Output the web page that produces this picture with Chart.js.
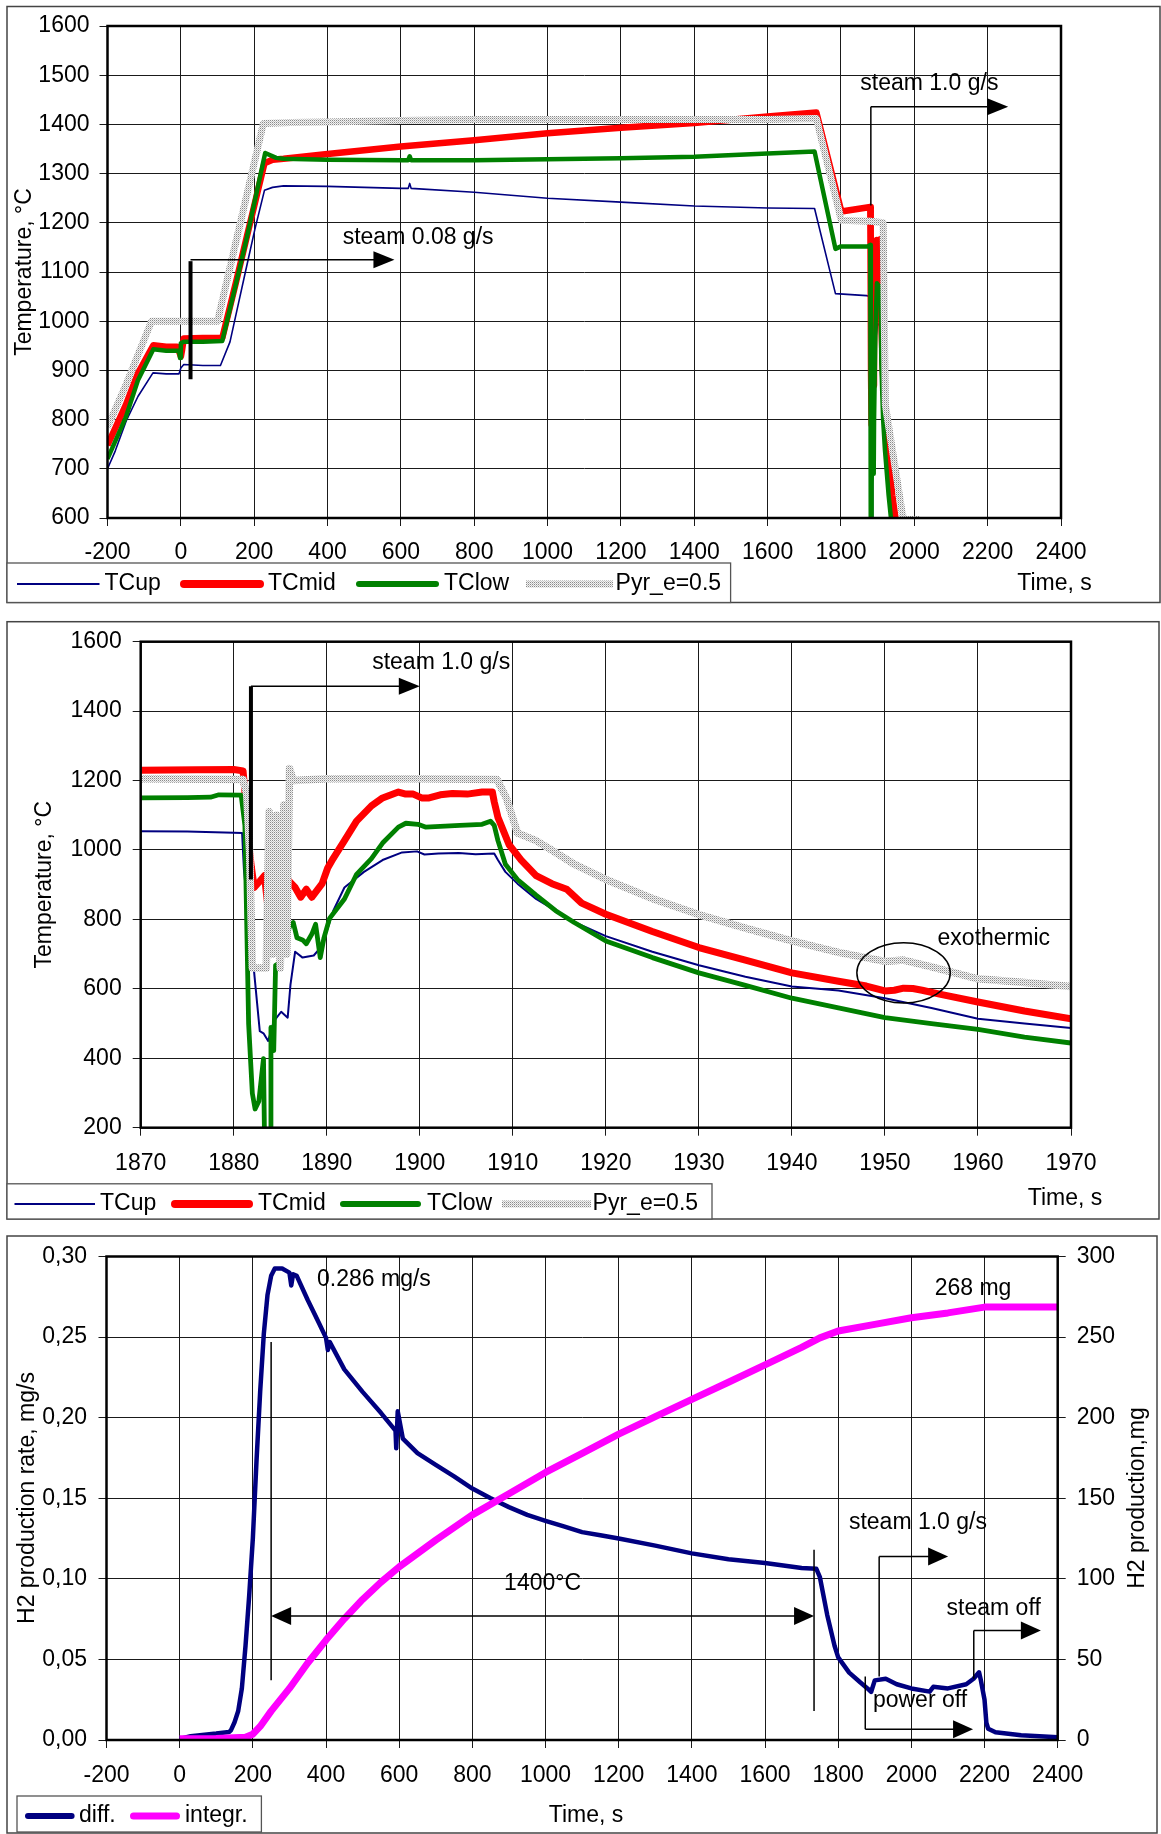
<!DOCTYPE html>
<html><head><meta charset="utf-8">
<script src="https://cdn.jsdelivr.net/npm/chart.js@4.4.1/dist/chart.umd.min.js"></script>
<style>
html,body{margin:0;padding:0;background:#fff;}
body{width:1161px;height:1834px;position:relative;overflow:hidden;}
canvas{position:absolute;left:0;}
</style></head><body>
<canvas id="c1" width="1161" height="610" style="top:0;width:1161px;height:610px"></canvas>
<canvas id="c2" width="1161" height="618" style="top:610px;width:1161px;height:618px"></canvas>
<canvas id="c3" width="1161" height="606" style="top:1228px;width:1161px;height:606px"></canvas>
<script>
// ---------------- DATA ----------------
const SERIES_NAMES = ['TCup', 'TCmid', 'TClow', 'Pyr_e=0.5'];
const P3_NAMES = ['diff.', 'integr.'];

// Panel 1 (full test), time in s, temperature in degC
const P1_XTICKS = [-200,0,200,400,600,800,1000,1200,1400,1600,1800,2000,2200,2400];
const P1_YTICKS = [600,700,800,900,1000,1100,1200,1300,1400,1500,1600];

const P1_TIME_UP = [-200,-179,-148,-117,-76,-40,-5,0,8,60,108,134,155,176,202,228,250,280,400,600,620,624,628,800,1000,1200,1400,1600,1728,1785,1870,1881,1881.5,1883,1884,1885,1886,1887,1890,1896,1900,1908,1912,1920,1930,1940,1950,1960,1970];
const P1_TCUP      = [700,736,799,847,895,893,893,905,912,910,910,958,1029,1100,1187,1266,1272,1275,1274,1270,1270,1280,1270,1262,1250,1242,1234,1230,1229,1056,1052,1050,942,470,450,530,610,700,800,970,995,990,860,752,668,607,573,511,487];

const P1_TIME_MID = [-200,-150,-117,-75,-40,-10,-3,0,3,8,60,113,150,180,200,228,250,280,400,600,800,1000,1200,1400,1600,1733,1801,1880,1881,1881.3,1882,1883,1884,1885,1886,1888,1890,1894,1898,1900,1904,1908,1910,1915,1920,1930,1940,1950,1960,1970];
const P1_TCMID      = [748,830,894,951,948,948,935,928,940,965,966,966,1078,1172,1234,1321,1328,1330,1340,1355,1368,1382,1393,1403,1416,1424,1223,1232,1225,1066,900,903,790,930,909,870,948,1127,1165,1150,1161,1167,1000,890,815,719,646,592,562,514];

const P1_TIME_LOW = [-200,-150,-117,-75,-40,-5,-2,0,8,60,113,150,180,230,260,280,400,600,620,624,628,800,1000,1200,1400,1600,1728,1785,1800,1874,1880,1881.2,1881.6,1882,1882.3,1883.2,1883.3,1883.9,1884,1884.5,1886,1888,1889.3,1890.3,1894,1898,1904,1908,1910,1915,1920,1930,1940,1950];
const P1_TCLOW      = [720,805,880,943,940,940,925,955,958,958,960,1075,1170,1342,1332,1330,1328,1327,1327,1335,1327,1327,1329,1331,1334,1341,1345,1147,1152,1152,1155,1071,500,299,254,399,187,187,489,668,780,760,690,803,982,1077,1071,1071,915,800,738,646,573,517];

const P1_TIME_PYR = [-200,-150,-80,100,225,300,400,600,800,1000,1200,1400,1600,1733,1801,1880,1915,1921,1968,1976,2015];
const P1_PYR      = [785,870,1000,1000,1402,1404,1405,1408,1410,1410,1410,1410,1410,1412,1205,1203,1200,830,605,597,597];

// Panel 2 (zoom 1870-1970 s)
const P2_XTICKS = [1870,1880,1890,1900,1910,1920,1930,1940,1950,1960,1970];
const P2_YTICKS = [200,400,600,800,1000,1200,1400,1600];

const P2_TIME_UP = [1870,1875,1880,1880.9,1881.1,1882.2,1882.8,1883.2,1883.7,1884.3,1885.1,1885.8,1886.1,1886.6,1887.4,1888.6,1889.5,1890.7,1891.9,1894,1896,1898.1,1899.7,1900.5,1902,1904.2,1906,1908,1908.4,1909.2,1910.5,1912.5,1914.6,1916.7,1920,1925,1930,1935,1940,1945,1950,1955,1960,1965,1970];
const P2_TCUP      = [1054,1053,1050,1049,942,646,478,472,450,506,534,517,612,707,690,696,724,825,892,937,971,993,996,987,990,991,988,990,971,937,903,859,825,791,752,707,668,635,607,595,573,545,514,500,487];

const P2_TIME_MID = [1870,1876,1880,1881,1881.2,1881.4,1881.9,1882.2,1882.8,1883.3,1883.9,1884.2,1884.9,1885.1,1885.5,1886,1886.6,1887.2,1887.8,1888.4,1889.5,1890.1,1890.7,1891.9,1893.2,1894.8,1896,1897.7,1898.5,1899.3,1900.2,1901,1902.2,1903.5,1905.1,1906.7,1907.8,1908,1908.4,1909.6,1910.9,1912.5,1914.2,1915.8,1917.4,1920,1925,1930,1935,1940,1945,1948,1950,1951,1952,1953,1954,1956,1960,1965,1970];
const P2_TCMID      = [1230,1231,1232,1228,1170,1066,950,892,910,926,780,948,937,892,930,909,892,864,887,864,903,948,976,1027,1083,1127,1150,1167,1161,1161,1150,1150,1159,1163,1161,1167,1167,1139,1094,1015,971,926,903,887,847,815,765,719,683,646,622,608,594,596,602,601,596,584,562,536,514];

const P2_TIME_LOW = [1870,1875,1877.5,1878.4,1880.8,1881.2,1881.6,1882,1882.3,1882.7,1883.2,1883.3,1883.9,1884,1884.3,1884.5,1884.9,1886,1886.4,1886.8,1887.4,1887.8,1888.4,1888.8,1889.3,1889.7,1890.3,1891.9,1893.2,1894.8,1896,1897.7,1898.5,1899.8,1900.6,1902.2,1904.3,1906.7,1907.6,1908,1908.4,1909.2,1910.5,1912.5,1914.6,1916.6,1920,1925,1930,1935,1940,1945,1950,1955,1960,1965,1970];
const P2_TCLOW      = [1150,1151,1152,1159,1158,1071,500,299,254,276,399,187,187,489,422,668,674,780,791,747,741,730,758,786,690,747,803,859,930,975,1020,1066,1077,1074,1066,1068,1071,1074,1083,1071,1027,959,915,870,825,791,738,690,646,610,573,545,517,500,483,461,444];

const P2_TIME_PYR = [1870,1881,1881.4,1881.7,1882,1883.5,1883.8,1884.2,1884.6,1885,1885.4,1885.7,1886,1886.4,1890,1900,1908.3,1909.3,1910.5,1912.5,1914.6,1916.6,1920,1925,1930,1935,1940,1945,1950,1952,1955,1960,1965,1970];
const P2_PYR      = [1205,1203,1160,1000,660,660,1110,700,1100,660,1130,700,1235,1200,1205,1205,1203,1150,1049,1027,993,959,915,860,814,775,738,705,679,683,663,629,618,607];

// Panel 3 (hydrogen), rate in mg/s, integral in mg
const P3_XTICKS  = [-200,0,200,400,600,800,1000,1200,1400,1600,1800,2000,2200,2400];
const P3_YTICKS  = [0,0.05,0.10,0.15,0.20,0.25,0.30];
const P3_Y2TICKS = [0,50,100,150,200,250,300];

const P3_TIME_DIFF = [0,30,100,135,140,150,160,170,180,190,200,210,220,230,240,250,260,280,300,305,310,320,350,380,400,405,410,450,500,550,590,592,596,610,650,700,750,800,850,900,950,1000,1050,1100,1150,1200,1300,1400,1500,1600,1700,1740,1750,1770,1790,1800,1830,1860,1880,1890,1900,1930,1960,2000,2050,2060,2100,2150,2170,2185,2190,2200,2205,2210,2230,2300,2400];
const P3_DIFF      = [0.0007,0.0024,0.004,0.005,0.006,0.011,0.018,0.032,0.0585,0.0895,0.125,0.173,0.216,0.252,0.276,0.288,0.2925,0.2925,0.290,0.282,0.289,0.288,0.273,0.259,0.2495,0.242,0.247,0.230,0.216,0.203,0.192,0.181,0.204,0.187,0.178,0.1707,0.1636,0.156,0.150,0.1445,0.1397,0.136,0.1325,0.129,0.127,0.125,0.1206,0.1158,0.1122,0.1098,0.1067,0.1063,0.101,0.0776,0.0585,0.0513,0.0418,0.0358,0.032,0.0298,0.037,0.038,0.0346,0.032,0.030,0.033,0.032,0.0346,0.038,0.042,0.037,0.025,0.0107,0.007,0.0048,0.003,0.0017];

const P3_TIME_INT = [0,100,180,200,220,250,300,350,400,450,500,550,600,700,800,900,1000,1100,1200,1300,1400,1500,1600,1700,1750,1800,1900,2000,2100,2200,2300,2400];
const P3_INTEGR   = [0.7,1,1.7,3.6,8.4,17.9,32,47.8,62,75.2,87.2,97.9,107.4,124,139.7,152.8,166,177.9,189.8,200.6,211.3,222,232.8,243.6,249.5,253.8,257.9,262,265,268.6,268.6,268.6];

// ---------------- STYLE / HELPERS ----------------
const FAMILY = '"Liberation Sans", Arial, Helvetica, sans-serif';
const FS = 23;
const FONT = FS + 'px ' + FAMILY;
const NAVY = '#000080', RED = '#ff0000', GREEN = '#008000', MAGENTA = '#ff00ff';

function pts(xs, ys){ return xs.map((x, i) => ({x: x, y: ys[i]})); }

function makePattern(){
  const c = document.createElement('canvas'); c.width = 2; c.height = 2;
  const g = c.getContext('2d');
  g.fillStyle = '#f2f2f2'; g.fillRect(0, 0, 2, 2);
  g.fillStyle = '#8a8a8a'; g.fillRect(0, 0, 1, 1);
  g.fillStyle = '#c4c4c4'; g.fillRect(1, 1, 1, 1);
  return g.createPattern(c, 'repeat');
}
const PYR_PAT = makePattern();

function scale(o){
  return {
    type: 'linear', position: o.pos, min: o.min, max: o.max,
    afterBuildTicks: s => { s.ticks = o.ticks.map(v => ({value: v})); },
    afterFit: s => { if (o.pos === 'left' || o.pos === 'right') s.width = o.size; else s.height = o.size; },
    grid: {display: true, drawOnChartArea: o.grid !== false, drawTicks: true, tickLength: 8, color: '#1a1a1a', lineWidth: 1},
    border: {display: false},
    ticks: {color: '#000', font: {family: FAMILY, size: FS}, padding: o.pad, autoSkip: false, maxRotation: 0, minRotation: 0,
            callback: o.fmt || (v => String(v))}
  };
}

function ds(data, color, width, order, yAxisID){
  return {data: data, borderColor: color, backgroundColor: color, borderWidth: width, order: order,
          fill: false, pointRadius: 0, tension: 0, borderJoinStyle: 'round', yAxisID: yAxisID || 'y'};
}

function seg(ctx, x1, y1, x2, y2, w){
  ctx.beginPath(); ctx.lineWidth = w; ctx.strokeStyle = '#000';
  ctx.moveTo(x1, y1); ctx.lineTo(x2, y2); ctx.stroke();
}
function head(ctx, tipX, y, dir, len, half){
  ctx.beginPath(); ctx.fillStyle = '#000';
  ctx.moveTo(tipX, y); ctx.lineTo(tipX - dir * len, y - half); ctx.lineTo(tipX - dir * len, y + half);
  ctx.closePath(); ctx.fill();
}
function txt(ctx, s, x, y, align){
  ctx.font = FONT; ctx.fillStyle = '#000'; ctx.textBaseline = 'middle'; ctx.textAlign = align || 'center';
  ctx.fillText(s, x, y);
}
function vtxt(ctx, s, x, y){
  ctx.save(); ctx.translate(x, y); ctx.rotate(-Math.PI / 2); txt(ctx, s, 0, 0, 'center'); ctx.restore();
}
function frame(ctx, x1, y1, x2, y2, w, col){
  ctx.lineWidth = w; ctx.strokeStyle = col; ctx.strokeRect(x1, y1, x2 - x1, y2 - y1);
}
function legend(ctx, box, ty, items){
  ctx.fillStyle = '#fff'; ctx.fillRect(box[0], box[1], box[2] - box[0], box[3] - box[1]);
  frame(ctx, box[0], box[1], box[2], box[3], 1.3, '#555');
  items.forEach(it => {
    ctx.beginPath(); ctx.lineWidth = it.w; ctx.strokeStyle = it.style; ctx.lineCap = it.cap;
    ctx.moveTo(it.x1, ty); ctx.lineTo(it.x2, ty); ctx.stroke();
    ctx.lineCap = 'butt';
    txt(ctx, it.text, it.tx, ty, 'left');
  });
}
function plotBox(ch){
  const a = ch.chartArea, ctx = ch.ctx;
  ctx.lineWidth = 2.5; ctx.strokeStyle = '#000'; ctx.strokeRect(a.left, a.top, a.right - a.left, a.bottom - a.top);
}

const BASE_OPTIONS = {
  responsive: false, maintainAspectRatio: false, animation: false, devicePixelRatio: 1, events: [],
  plugins: {legend: {display: false}, tooltip: {enabled: false}, title: {display: false}},
  elements: {point: {radius: 0}, line: {tension: 0}}
};
function build(id, datasets, scales, padding, drawFn){
  return new Chart(document.getElementById(id), {
    type: 'line',
    data: {datasets: datasets},
    options: Object.assign({}, BASE_OPTIONS, {layout: {padding: padding}, scales: scales}),
    plugins: [{id: 'deco' + id, afterDraw: ch => { const c = ch.ctx; c.save(); drawFn(ch, c); c.restore(); }}]
  });
}

// ---------------- PANEL 1 ----------------
build('c1', [
    ds(pts(P1_TIME_UP, P1_TCUP), NAVY, 1.6, 3),
    ds(pts(P1_TIME_MID, P1_TCMID), RED, 6.5, 2),
    ds(pts(P1_TIME_LOW, P1_TCLOW), GREEN, 4.5, 1),
    ds(pts(P1_TIME_PYR, P1_PYR), PYR_PAT, 7, 0)
  ], {
    x: scale({pos: 'bottom', min: -200, max: 2400, ticks: P1_XTICKS, size: 92, pad: 13}),
    y: scale({pos: 'left', min: 600, max: 1600, ticks: P1_YTICKS, size: 107.5, pad: 10})
  }, {top: 26, right: 100, left: 0, bottom: 0},
  (ch, ctx) => {
    const X = v => ch.scales.x.getPixelForValue(v), Y = v => ch.scales.y.getPixelForValue(v);
    plotBox(ch);
    frame(ctx, 7, 6.5, 1160, 602.5, 1.5, '#444');
    vtxt(ctx, 'Temperature, °C', 25, 272);
    txt(ctx, 'Time, s', 1054.5, 584);
    legend(ctx, [7, 563, 730.6, 602.5], 584, [
      {x1: 17, x2: 99.5, w: 2, style: NAVY, cap: 'butt', tx: 104.5, text: SERIES_NAMES[0]},
      {x1: 184, x2: 260, w: 8, style: RED, cap: 'round', tx: 268, text: SERIES_NAMES[1]},
      {x1: 359, x2: 436, w: 6, style: GREEN, cap: 'round', tx: 444, text: SERIES_NAMES[2]},
      {x1: 526, x2: 613, w: 7, style: PYR_PAT, cap: 'butt', tx: 615.6, text: SERIES_NAMES[3]}
    ]);
    // steam 0.08 g/s arrow
    seg(ctx, X(26.4), Y(1122), X(26.4), Y(882), 4);
    seg(ctx, X(26.4), Y(1125), X(582.5) - 15, Y(1125), 1.5);
    head(ctx, X(582.5), Y(1125), 1, 21, 8.5);
    txt(ctx, 'steam 0.08 g/s', X(647), Y(1169));
    // steam 1.0 g/s arrow
    seg(ctx, X(1881.5), Y(1235), X(1881.5), Y(1436), 1.5);
    seg(ctx, X(1881.5), Y(1436), X(2256) - 15, Y(1436), 1.5);
    head(ctx, X(2256), Y(1436), 1, 21, 8.5);
    txt(ctx, 'steam 1.0 g/s', X(2041), Y(1482));
  });

// ---------------- PANEL 2 ----------------
build('c2', [
    ds(pts(P2_TIME_UP, P2_TCUP), NAVY, 2, 3),
    ds(pts(P2_TIME_MID, P2_TCMID), RED, 7, 2),
    ds(pts(P2_TIME_LOW, P2_TCLOW), GREEN, 4.8, 1),
    ds(pts(P2_TIME_PYR, P2_PYR), PYR_PAT, 7.5, 0)
  ], {
    x: scale({pos: 'bottom', min: 1870, max: 1970, ticks: P2_XTICKS, size: 100.3, pad: 14}),
    y: scale({pos: 'left', min: 200, max: 1600, ticks: P2_YTICKS, size: 140.7, pad: 11})
  }, {top: 31.7, right: 90, left: 0, bottom: 0},
  (ch, ctx) => {
    const X = v => ch.scales.x.getPixelForValue(v), Y = v => ch.scales.y.getPixelForValue(v);
    plotBox(ch);
    frame(ctx, 7, 11.7, 1159, 609, 1.5, '#444');
    vtxt(ctx, 'Temperature, °C', 45, 274.7);
    txt(ctx, 'Time, s', 1065, 589);
    legend(ctx, [7, 573.8, 712, 609], 594, [
      {x1: 14.5, x2: 95, w: 2, style: NAVY, cap: 'butt', tx: 100, text: SERIES_NAMES[0]},
      {x1: 175, x2: 249, w: 8, style: RED, cap: 'round', tx: 258, text: SERIES_NAMES[1]},
      {x1: 343, x2: 418, w: 6, style: GREEN, cap: 'round', tx: 427, text: SERIES_NAMES[2]},
      {x1: 502, x2: 591, w: 7, style: PYR_PAT, cap: 'butt', tx: 592.6, text: SERIES_NAMES[3]}
    ]);
    // steam arrow
    seg(ctx, X(1881.85), Y(1472), X(1881.85), Y(915), 4);
    seg(ctx, X(1881.85), Y(1472), X(1900) - 15, Y(1472), 1.5);
    head(ctx, X(1900), Y(1472), 1, 21, 8.5);
    txt(ctx, 'steam 1.0 g/s', X(1902.3), Y(1540));
    // exothermic ellipse
    ctx.beginPath(); ctx.lineWidth = 1.5; ctx.strokeStyle = '#000';
    ctx.ellipse(X(1952), Y(646), X(1957.02) - X(1952), Y(559) - Y(646), 0, 0, Math.PI * 2);
    ctx.stroke();
    txt(ctx, 'exothermic', X(1961.7), Y(743.6));
  });

// ---------------- PANEL 3 ----------------
build('c3', [
    ds(pts(P3_TIME_DIFF, P3_DIFF), NAVY, 4.5, 1, 'y'),
    ds(pts(P3_TIME_INT, P3_INTEGR), MAGENTA, 7, 0, 'y2')
  ], {
    x: scale({pos: 'bottom', min: -200, max: 2400, ticks: P3_XTICKS, size: 94, pad: 14}),
    y: scale({pos: 'left', min: 0, max: 0.30, ticks: P3_YTICKS, size: 106.5, pad: 11.5,
              fmt: v => Number(v).toFixed(2).replace('.', ',')}),
    y2: scale({pos: 'right', min: 0, max: 300, ticks: P3_Y2TICKS, size: 103.3, pad: 11, grid: false})
  }, {top: 28.5, right: 0, left: 0, bottom: 0},
  (ch, ctx) => {
    const X = v => ch.scales.x.getPixelForValue(v), Y = v => ch.scales.y.getPixelForValue(v);
    plotBox(ch);
    frame(ctx, 7, 8, 1157, 605, 1.5, '#444');
    vtxt(ctx, 'H2 production rate, mg/s', 28, 270);
    vtxt(ctx, 'H2 production,mg', 1138, 270);
    txt(ctx, 'Time, s', 586, 588);
    legend(ctx, [17, 568, 261.4, 604], 588, [
      {x1: 28, x2: 71.6, w: 6, style: NAVY, cap: 'round', tx: 79, text: P3_NAMES[0]},
      {x1: 133.5, x2: 176.5, w: 7, style: MAGENTA, cap: 'round', tx: 185, text: P3_NAMES[1]}
    ]);
    // 1400 C interval
    seg(ctx, X(250), Y(0.247), X(250), Y(0.037), 1.5);
    seg(ctx, X(1734), Y(0.118), X(1734), Y(0.018), 1.5);
    seg(ctx, X(250) + 15, Y(0.0769), X(1734) - 15, Y(0.0769), 1.5);
    head(ctx, X(250), Y(0.0769), -1, 20, 9);
    head(ctx, X(1734), Y(0.0769), 1, 20, 9);
    txt(ctx, '1400°C', X(992), Y(0.0970));
    txt(ctx, '0.286 mg/s', X(531), Y(0.2858));
    txt(ctx, '268 mg', X(2168.5), Y(0.2801));
    // steam 1.0 g/s
    seg(ctx, X(1912), Y(0.0394), X(1912), Y(0.1139), 1.5);
    seg(ctx, X(1912), Y(0.1139), X(2100.5) - 15, Y(0.1139), 1.5);
    head(ctx, X(2100.5), Y(0.1139), 1, 20, 9);
    txt(ctx, 'steam 1.0 g/s', X(2018), Y(0.1348));
    // steam off
    seg(ctx, X(2170.6), Y(0.038), X(2170.6), Y(0.068), 1.5);
    seg(ctx, X(2170.6), Y(0.068), X(2354) - 15, Y(0.068), 1.5);
    head(ctx, X(2354), Y(0.068), 1, 20, 9);
    txt(ctx, 'steam off', X(2225), Y(0.0815));
    // power off
    seg(ctx, X(1874), Y(0.0394), X(1874), Y(0.0067), 1.5);
    seg(ctx, X(1874), Y(0.0067), X(2168.6) - 15, Y(0.0067), 1.5);
    head(ctx, X(2168.6), Y(0.0067), 1, 20, 9);
    txt(ctx, 'power off', X(2023.6), Y(0.0244));
  });
</script>
</body></html>
